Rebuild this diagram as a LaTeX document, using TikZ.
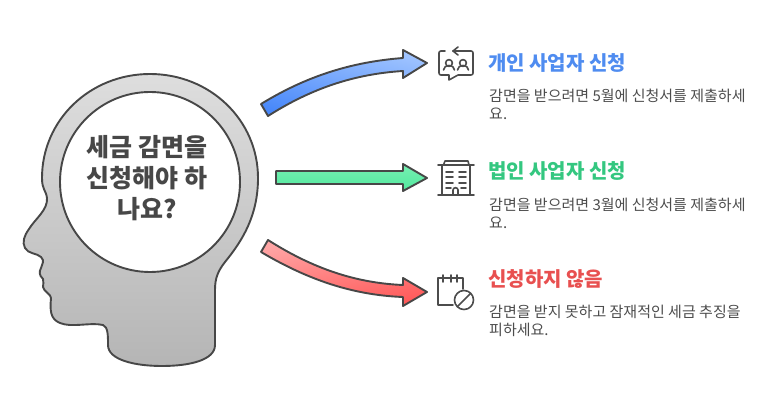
\documentclass[tikz,border=0pt]{standalone}
\usepackage{fontspec}
\setmainfont{Noto Sans CJK KR}
\definecolor{bluetop}{RGB}{160,196,255}
\definecolor{bluebot}{RGB}{72,136,250}
\definecolor{greentop}{RGB}{118,240,178}
\definecolor{greenbot}{RGB}{82,232,158}
\definecolor{redtop}{RGB}{255,165,165}
\definecolor{redbot}{RGB}{255,90,90}
\begin{document}
\begin{tikzpicture}[x=1pt,y=-1pt,
  outl/.style={draw=black!72,line width=1.9pt,line join=round},
  icon/.style={draw=black!70,line width=1.6pt,line cap=round,line join=round},
  headtext/.style={text=black!72,font=\fontsize{25}{31}\selectfont\bfseries,align=center,inner sep=0pt},
  titletext/.style={anchor=west,inner sep=0pt,font=\fontsize{20}{22}\selectfont\bfseries},
  bodytext/.style={anchor=west,inner sep=0pt,text=black!70,font=\fontsize{15}{18}\selectfont,align=left}]
\useasboundingbox (0,0) rectangle (771,411);
% head
\path[outl,top color=black!13,bottom color=black!29]
 (150,74) .. controls (210,74) and (258,120) .. (258,178)
 .. controls (258,215) and (243,240) .. (225,262)
 .. controls (218,271) and (215,278) .. (215,290)
 -- (215,345) .. controls (215,360) and (190,366) .. (162,366)
 .. controls (135,366) and (108,360) .. (108,345)
 .. controls (108,335) and (108,327) .. (103,325)
 .. controls (90,322) and (72,328) .. (60,323)
 .. controls (50,319) and (50,310) .. (51,298)
 .. controls (51,294) and (44,292) .. (43,287)
 .. controls (42,284) and (45,282) .. (43,279)
 .. controls (39,275) and (39,272) .. (41,268)
 .. controls (42,264) and (45,261) .. (41,257)
 .. controls (37,253) and (28,254) .. (25,248)
 .. controls (22,242) and (24,236) .. (29,229)
 .. controls (35,219) and (48,210) .. (47,198)
 .. controls (46,190) and (42,190) .. (42,178)
 .. controls (42,120) and (90,74) .. (150,74) -- cycle;
\node[circle,outl,fill=white,minimum size=180pt,inner sep=0pt] (brain) at (150,182) {};
\node[headtext] (question) at (147,178) {세금 감면을\\신청해야 하\\나요?};
% arrows
\path[outl,top color=bluetop,bottom color=bluebot,shading angle=-12]
 (261,104) .. controls (305,77) and (350,62) .. (403,58)
 -- (403,50) -- (427,63) -- (403,78) -- (403,71)
 .. controls (355,74) and (312,88) .. (268,116) -- cycle;
\path[outl,top color=greentop,bottom color=greenbot]
 (276,171) -- (403,171) -- (403,164) -- (427,178) -- (403,191) -- (403,184) -- (276,184) -- cycle;
\path[outl,top color=redtop,bottom color=redbot,shading angle=12]
 (268,240) .. controls (312,268) and (355,283) .. (403,285)
 -- (403,278) -- (427,292) -- (403,306) -- (403,297)
 .. controls (350,295) and (305,278) .. (261,252) -- cycle;
% icon 1
\draw[icon] (445,51) -- (441,51) .. controls (439.5,51) and (439,52) .. (439,53) -- (439,73) .. controls (439,74.5) and (440,75) .. (441,75) -- (449,75) -- (449,80) -- (458,75) -- (471,75) .. controls (472.5,75) and (473,74) .. (473,73) -- (473,53) .. controls (473,52) and (472.5,51) .. (471,51) -- (453,51);
\draw[icon] (458,47) -- (453,51) -- (458,55);
\draw[icon] (449,63) circle (3.4);
\draw[icon] (463,63) circle (3.4);
\draw[icon] (443.5,70) .. controls (443.5,64) and (454.5,64) .. (454.5,70);
\draw[icon] (457.5,70) .. controls (457.5,64) and (468.5,64) .. (468.5,70);
% icon 2
\draw[icon] (438,195) -- (474,195) (438,165) -- (474,165);
\draw[icon] (442,165) -- (442,195) (470,165) -- (470,195);
\draw[icon] (443.5,165) -- (445,161) -- (468,161) -- (469,165);
\draw[icon] (446,172) -- (453,172) (459,172) -- (466,172)
 (446,177) -- (453,177) (459,177) -- (466,177)
 (446,183) -- (453,183) (459,183) -- (466,183)
 (446,188) -- (451,188) (461,188) -- (466,188);
\draw[icon] (453,195) -- (453,190) .. controls (453,187) and (458,187) .. (458,190) -- (458,195);
% icon 3
\draw[icon] (463,289) -- (463,278) -- (438,278) -- (438,305) -- (453,305);
\draw[icon] (443,275) -- (443,282) (451,275) -- (451,282) (457,275) -- (457,282);
\draw[icon] (464,300) circle (9.5);
\draw[icon] (457.5,306.5) -- (470.5,293.5);
% text
\node[titletext,text={rgb,255:red,79;green,140;blue,240}] (t1) at (488,63) {개인 사업자 신청};
\node[bodytext] (b1) at (489,104) {감면을 받으려면 5월에 신청서를 제출하세\\요.};
\node[titletext,text={rgb,255:red,52;green,199;blue,128}] (t2) at (488,171) {법인 사업자 신청};
\node[bodytext] (b2) at (489,213) {감면을 받으려면 3월에 신청서를 제출하세\\요.};
\node[titletext,text={rgb,255:red,232;green,80;blue,80}] (t3) at (488,279) {신청하지 않음};
\node[bodytext] (b3) at (489,321) {감면을 받지 못하고 잠재적인 세금 추징을\\피하세요.};
\end{tikzpicture}
\end{document}
